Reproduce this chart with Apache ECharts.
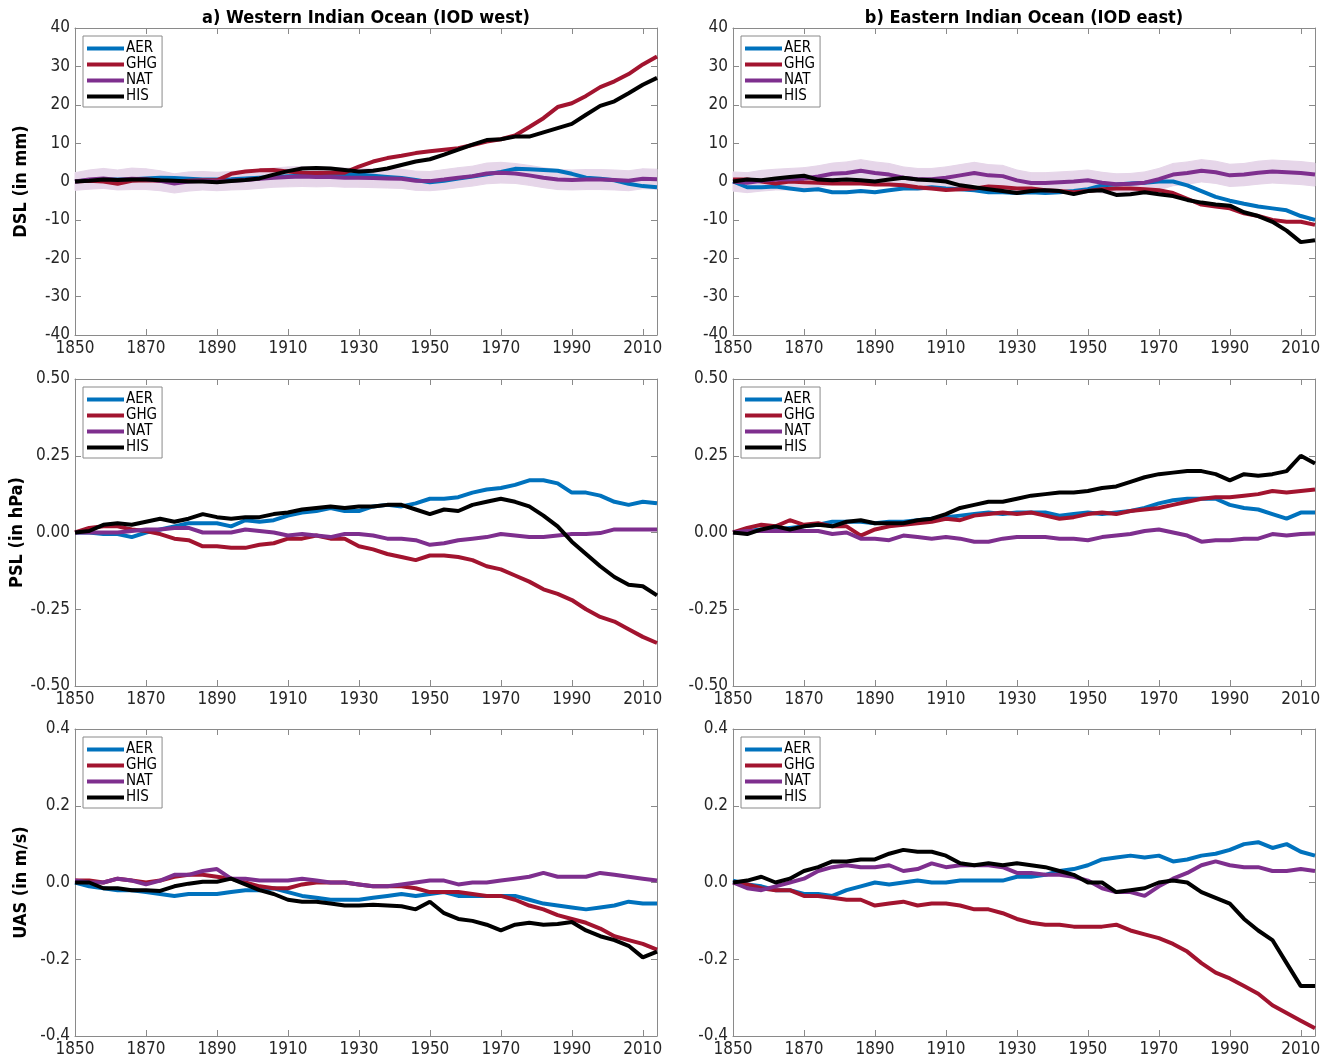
<!DOCTYPE html>
<html>
<head>
<meta charset="utf-8">
<script src="https://cdn.jsdelivr.net/npm/echarts@6/dist/echarts.min.js"></script>
<style>html,body{margin:0;padding:0;background:#fff}#c{width:1330px;height:1058px}</style>
</head>
<body>
<div id="c"></div>
<script>
// ---------- DATA ----------
const years = [1850,1854,1858,1862,1866,1870,1874,1878,1882,1886,1890,1894,1898,1902,1906,1910,1914,1918,1922,1926,1930,1934,1938,1942,1946,1950,1954,1958,1962,1966,1970,1974,1978,1982,1986,1990,1994,1998,2002,2006,2010,2014];
const xTickYears = [1850,1870,1890,1910,1930,1950,1970,1990,2010];
const seriesNames = ['AER','GHG','NAT','HIS'];
const panelTitles = ['a) Western Indian Ocean (IOD west)','b) Eastern Indian Ocean (IOD east)'];
const rowNames = ['DSL (in mm)','PSL (in hPa)','UAS (in m/s)'];
const rowMin = [-40,-0.5,-0.4];
const rowMax = [40,0.5,0.4];
const rowStep = [10,0.25,0.2];
const rowDecimals = [0,2,1];

// DSL west
const dslWest_AER = [0,0.3,0.5,0.5,0.6,0.8,1.0,0.9,0.7,0.5,0.5,0.6,0.8,1.0,1.2,1.4,1.5,1.5,1.6,1.8,1.8,1.5,1.2,0.9,0.4,-0.2,0.2,0.8,1.3,1.9,2.5,3.3,3.2,3.0,2.8,2.0,1.0,0.7,0.3,-0.6,-1.2,-1.5];
const dslWest_GHG = [0,0.2,0,-0.6,0.2,0.3,0.2,0,0.2,0.3,0.3,2.0,2.6,2.9,3.0,2.6,2.3,2.2,2.3,2.3,3.9,5.2,6.1,6.7,7.4,7.9,8.3,8.7,9.5,10.4,11.0,12.0,14.2,16.5,19.4,20.4,22.3,24.6,26.1,28.0,30.5,32.6];
const dslWest_NAT = [0,0.5,0.8,0.4,0.7,0.6,0.2,-0.5,0,0.2,0,0.2,0.4,0.7,1.0,1.2,1.3,1.2,1.2,1.0,1.0,0.9,0.8,0.7,0.2,0.1,0.5,1.0,1.4,2.1,2.3,2.1,1.6,1.0,0.5,0.4,0.5,0.5,0.4,0.2,0.7,0.6];
const dslWest_HIS = [0,0.2,0.5,0.4,0.5,0.5,0.3,0.2,0,0,-0.2,0.1,0.4,0.8,1.8,2.7,3.4,3.5,3.4,3.0,2.6,2.8,3.4,4.3,5.2,5.8,7.0,8.3,9.6,10.8,11.0,11.7,11.7,12.8,13.9,15.0,17.4,19.7,20.9,23.0,25.2,27.0];
const dslWest_NATspread = [2.3,2.5,2.6,2.6,2.8,2.7,2.6,2.5,2.5,2.4,2.4,2.4,2.5,2.5,2.5,2.6,2.6,2.6,2.5,2.5,2.5,2.5,2.5,2.5,2.5,2.5,2.6,2.6,2.6,2.7,2.7,2.6,2.6,2.6,2.6,2.6,2.6,2.6,2.6,2.6,2.6,2.6];

// DSL east
const dslEast_AER = [0,-1.5,-1.5,-1.3,-1.8,-2.3,-2.0,-2.8,-2.8,-2.5,-2.8,-2.3,-1.8,-1.8,-1.5,-1.8,-2.0,-2.3,-2.8,-2.8,-3.0,-2.8,-3.0,-2.8,-2.5,-2.0,-1.0,-0.8,-0.5,-0.3,0,0,-1.0,-2.5,-4.0,-5.0,-5.8,-6.5,-7.0,-7.5,-9.0,-10.0];
const dslEast_GHG = [0.5,0.5,0,-0.5,0,-0.2,-0.3,-0.5,-0.5,-0.5,-0.8,-0.8,-1.0,-1.5,-1.8,-2.2,-2.0,-1.8,-1.3,-1.5,-1.8,-1.8,-2.3,-2.5,-2.8,-2.5,-2.0,-1.8,-1.8,-2.0,-2.3,-3.0,-4.5,-6.0,-6.5,-7.0,-8.3,-9.0,-10.0,-10.5,-10.5,-11.3];
const dslEast_NAT = [0,-0.3,0.2,0.5,0.6,0.8,1.3,2.0,2.2,2.8,2.2,1.8,1.0,0.6,0.6,1.0,1.6,2.2,1.6,1.4,0.3,-0.4,-0.4,-0.2,0,0.3,-0.3,-0.7,-0.6,-0.3,0.6,1.8,2.2,2.8,2.4,1.6,1.8,2.3,2.6,2.4,2.2,1.8];
const dslEast_HIS = [0,0.5,0.3,0.8,1.2,1.5,0.5,0.3,0.5,0.3,0,0.5,1.0,0.5,0.3,0,-1.0,-1.5,-2.0,-2.5,-3.0,-2.5,-2.3,-2.5,-3.3,-2.5,-2.3,-3.5,-3.3,-2.8,-3.3,-3.8,-4.8,-5.5,-6.0,-6.3,-8.0,-9.0,-10.5,-12.8,-15.8,-15.3];
const dslEast_NATspread = [2.5,2.6,2.7,2.7,2.8,2.8,2.8,2.8,2.9,2.9,2.9,2.9,2.8,2.8,2.8,2.8,2.8,2.8,2.8,2.8,2.7,2.7,2.7,2.7,2.7,2.7,2.7,2.7,2.7,2.8,2.8,2.9,2.9,2.9,2.9,2.9,2.9,3.0,3.0,3.0,3.0,3.0];

// PSL west
const pslWest_AER = [0,0,-0.005,-0.005,-0.015,0,0.01,0.02,0.03,0.03,0.03,0.02,0.04,0.035,0.04,0.055,0.065,0.07,0.08,0.07,0.07,0.085,0.09,0.085,0.095,0.11,0.11,0.115,0.13,0.14,0.145,0.155,0.17,0.17,0.16,0.13,0.13,0.12,0.1,0.09,0.1,0.095];
const pslWest_GHG = [0,0.015,0.02,0.02,0.01,0.005,-0.005,-0.02,-0.025,-0.045,-0.045,-0.05,-0.05,-0.04,-0.035,-0.02,-0.02,-0.01,-0.02,-0.02,-0.045,-0.055,-0.07,-0.08,-0.09,-0.075,-0.075,-0.08,-0.09,-0.11,-0.12,-0.14,-0.16,-0.185,-0.2,-0.22,-0.25,-0.275,-0.29,-0.315,-0.34,-0.36];
const pslWest_NAT = [0,0,0,0,0.005,0.01,0.01,0.015,0.015,0,0,0,0.01,0.005,0,-0.01,-0.005,-0.01,-0.015,-0.005,-0.005,-0.01,-0.02,-0.02,-0.025,-0.04,-0.035,-0.025,-0.02,-0.015,-0.005,-0.01,-0.015,-0.015,-0.01,-0.005,-0.005,-0.002,0.01,0.01,0.01,0.01];
const pslWest_HIS = [0,0.005,0.025,0.03,0.025,0.035,0.045,0.035,0.045,0.06,0.05,0.045,0.05,0.05,0.06,0.065,0.075,0.08,0.085,0.08,0.085,0.085,0.09,0.09,0.075,0.06,0.075,0.07,0.09,0.1,0.11,0.1,0.085,0.055,0.02,-0.03,-0.07,-0.11,-0.145,-0.17,-0.175,-0.205];

// PSL east
const pslEast_AER = [0,0.005,0.01,0.01,0.015,0.02,0.025,0.035,0.035,0.035,0.03,0.035,0.035,0.04,0.045,0.05,0.055,0.06,0.065,0.06,0.065,0.065,0.065,0.055,0.06,0.065,0.06,0.065,0.07,0.08,0.095,0.105,0.11,0.11,0.11,0.09,0.08,0.075,0.06,0.045,0.065,0.065];
const pslEast_GHG = [0,0.015,0.025,0.02,0.04,0.025,0.03,0.02,0.02,-0.01,0.01,0.02,0.025,0.03,0.035,0.045,0.04,0.055,0.06,0.065,0.06,0.065,0.055,0.045,0.05,0.06,0.065,0.06,0.07,0.075,0.08,0.09,0.1,0.11,0.115,0.115,0.12,0.125,0.135,0.13,0.135,0.14];
const pslEast_NAT = [0,0.005,0.005,0.005,0.005,0.005,0.005,-0.005,0,-0.02,-0.02,-0.025,-0.01,-0.015,-0.02,-0.015,-0.02,-0.03,-0.03,-0.02,-0.015,-0.015,-0.015,-0.02,-0.02,-0.025,-0.015,-0.01,-0.005,0.005,0.01,0,-0.01,-0.03,-0.025,-0.025,-0.02,-0.02,-0.005,-0.01,-0.005,-0.003];
const pslEast_HIS = [0,-0.005,0.01,0.02,0.01,0.02,0.025,0.02,0.035,0.04,0.03,0.03,0.03,0.04,0.045,0.06,0.08,0.09,0.1,0.1,0.11,0.12,0.125,0.13,0.13,0.135,0.145,0.15,0.165,0.18,0.19,0.195,0.2,0.2,0.19,0.17,0.19,0.185,0.19,0.2,0.25,0.225];

// UAS west
const uasWest_AER = [0,-0.01,-0.015,-0.02,-0.02,-0.025,-0.03,-0.035,-0.03,-0.03,-0.03,-0.025,-0.02,-0.02,-0.015,-0.025,-0.035,-0.04,-0.045,-0.045,-0.045,-0.04,-0.035,-0.03,-0.035,-0.03,-0.025,-0.035,-0.035,-0.035,-0.035,-0.035,-0.045,-0.055,-0.06,-0.065,-0.07,-0.065,-0.06,-0.05,-0.055,-0.055];
const uasWest_GHG = [0.005,0.005,0,0.01,0.005,0,0.005,0.015,0.02,0.02,0.015,0.01,0,-0.01,-0.015,-0.015,-0.005,0,0,0,-0.005,-0.01,-0.01,-0.01,-0.015,-0.025,-0.025,-0.025,-0.03,-0.035,-0.035,-0.045,-0.06,-0.07,-0.085,-0.095,-0.105,-0.12,-0.14,-0.15,-0.16,-0.175];
const uasWest_NAT = [0.005,0,0,0.01,0.005,-0.005,0.005,0.02,0.02,0.03,0.035,0.01,0.01,0.005,0.005,0.005,0.01,0.005,0,0,-0.005,-0.01,-0.01,-0.005,0,0.005,0.005,-0.005,0,0,0.005,0.01,0.015,0.025,0.015,0.015,0.015,0.025,0.02,0.015,0.01,0.005];
const uasWest_HIS = [0,0,-0.015,-0.015,-0.02,-0.02,-0.022,-0.01,-0.003,0.002,0.002,0.01,-0.005,-0.02,-0.03,-0.045,-0.05,-0.05,-0.055,-0.06,-0.06,-0.058,-0.06,-0.062,-0.07,-0.05,-0.08,-0.095,-0.1,-0.11,-0.125,-0.11,-0.105,-0.11,-0.108,-0.103,-0.125,-0.14,-0.15,-0.165,-0.195,-0.18];

// UAS east
const uasEast_AER = [0.005,-0.005,-0.01,-0.02,-0.02,-0.03,-0.03,-0.035,-0.02,-0.01,0,-0.005,0,0.005,0,0,0.005,0.005,0.005,0.005,0.015,0.015,0.02,0.03,0.035,0.045,0.06,0.065,0.07,0.065,0.07,0.055,0.06,0.07,0.075,0.085,0.1,0.105,0.09,0.1,0.08,0.07];
const uasEast_GHG = [0,-0.005,-0.015,-0.02,-0.02,-0.035,-0.035,-0.04,-0.045,-0.045,-0.06,-0.055,-0.05,-0.06,-0.055,-0.055,-0.06,-0.07,-0.07,-0.08,-0.095,-0.105,-0.11,-0.11,-0.115,-0.115,-0.115,-0.11,-0.125,-0.135,-0.145,-0.16,-0.18,-0.21,-0.235,-0.25,-0.27,-0.29,-0.32,-0.34,-0.36,-0.38];
const uasEast_NAT = [0,-0.015,-0.02,-0.01,0,0.01,0.03,0.04,0.045,0.04,0.04,0.045,0.03,0.035,0.05,0.04,0.045,0.045,0.045,0.04,0.025,0.025,0.02,0.02,0.015,0.005,-0.015,-0.025,-0.025,-0.035,-0.01,0.01,0.025,0.045,0.055,0.045,0.04,0.04,0.03,0.03,0.035,0.03];
const uasEast_HIS = [0,0.005,0.015,0,0.01,0.03,0.04,0.055,0.055,0.06,0.06,0.075,0.085,0.08,0.08,0.07,0.05,0.045,0.05,0.045,0.05,0.045,0.04,0.03,0.02,0,0,-0.025,-0.02,-0.015,0,0.005,0,-0.025,-0.04,-0.055,-0.095,-0.125,-0.15,-0.21,-0.27,-0.27];

// ---------- PANEL TABLE ----------
const panels = [
  {row:0,col:0,data:[dslWest_AER,dslWest_GHG,dslWest_NAT,dslWest_HIS],spread:dslWest_NATspread},
  {row:0,col:1,data:[dslEast_AER,dslEast_GHG,dslEast_NAT,dslEast_HIS],spread:dslEast_NATspread},
  {row:1,col:0,data:[pslWest_AER,pslWest_GHG,pslWest_NAT,pslWest_HIS]},
  {row:1,col:1,data:[pslEast_AER,pslEast_GHG,pslEast_NAT,pslEast_HIS]},
  {row:2,col:0,data:[uasWest_AER,uasWest_GHG,uasWest_NAT,uasWest_HIS]},
  {row:2,col:1,data:[uasEast_AER,uasEast_GHG,uasEast_NAT,uasEast_HIS]}
];

// ---------- STYLE ----------
const colors = ['#0072BD','#A2142F','#7E2F8E','#000000'];
const bandColor = '#e6d6e9';
const axisColor = '#8a8a8a';
const labelColor = '#262626';
const FONT = '"DejaVu Sans Condensed","DejaVu Sans",sans-serif';
const gridLeft = [75,733];
const gridTop = [28,379,729];
const gridW = 582, gridH = 307;

const grid = [], xAxis = [], yAxis = [], series = [], legend = [];
panels.forEach((p,i) => {
  grid.push({left:gridLeft[p.col], top:gridTop[p.row], width:gridW, height:gridH});
  const tickStyle = {show:true, inside:true, length:6, customValues:xTickYears, lineStyle:{color:axisColor}};
  xAxis.push({gridIndex:i, type:'value', min:1850, max:2014, position:'bottom',
    axisLine:{show:true, onZero:false, lineStyle:{color:axisColor,width:1}},
    axisTick:tickStyle,
    axisLabel:{customValues:xTickYears, color:labelColor, fontSize:17, fontFamily:FONT, margin:5, formatter:v=>String(v)},
    splitLine:{show:false}});
  xAxis.push({gridIndex:i, type:'value', min:1850, max:2014, position:'top',
    axisLine:{show:true, onZero:false, lineStyle:{color:axisColor,width:1}},
    axisTick:tickStyle,
    axisLabel:{show:false, customValues:xTickYears},
    splitLine:{show:false},
    name: p.row===0 ? panelTitles[p.col] : '', nameLocation:'middle', nameGap:1,
    nameTextStyle:{fontWeight:'bold', fontSize:18, color:'#000', fontFamily:FONT}});
  const dec = rowDecimals[p.row];
  const yTick = {show:true, inside:true, length:6, lineStyle:{color:axisColor}};
  yAxis.push({gridIndex:i, type:'value', min:rowMin[p.row], max:rowMax[p.row], interval:rowStep[p.row], position:'left',
    axisLine:{show:true, onZero:false, lineStyle:{color:axisColor,width:1}},
    axisTick:yTick,
    axisLabel:{color:labelColor, fontSize:17, fontFamily:FONT, margin:5, formatter:v=>v.toFixed(dec)},
    splitLine:{show:false},
    name: p.col===0 ? rowNames[p.row] : '', nameLocation:'middle', nameGap:45,
    nameTextStyle:{fontWeight:'bold', fontSize:18, color:'#000', fontFamily:FONT}});
  yAxis.push({gridIndex:i, type:'value', min:rowMin[p.row], max:rowMax[p.row], interval:rowStep[p.row], position:'right',
    axisLine:{show:true, onZero:false, lineStyle:{color:axisColor,width:1}},
    axisTick:yTick, axisLabel:{show:false}, splitLine:{show:false}});

  const xi = 2*i, yi = 2*i;
  if (p.spread) {
    const nat = p.data[2], sp = p.spread;
    const bandData = years.slice(0,-1).map((y,k)=>[y, nat[k]-sp[k], nat[k]+sp[k], years[k+1], nat[k+1]-sp[k+1], nat[k+1]+sp[k+1]]);
    series.push({type:'custom', name:'NAT spread', xAxisIndex:xi, yAxisIndex:yi, silent:true, z:1,
      encode:{x:[0,3], y:[1,2,4,5]},
      renderItem:(params, api) => {
        const a = api.coord([api.value(0), api.value(1)]);
        const b = api.coord([api.value(0), api.value(2)]);
        const c = api.coord([api.value(3), api.value(5)]);
        const d = api.coord([api.value(3), api.value(4)]);
        return {type:'polygon', shape:{points:[a,b,c,d]}, style:{fill:bandColor, stroke:bandColor, lineWidth:1}};
      },
      data: bandData});
  }
  seriesNames.forEach((nm,s) => {
    series.push({type:'line', name:nm, xAxisIndex:xi, yAxisIndex:yi, showSymbol:false,
      color:colors[s], lineStyle:{width:4, color:colors[s]}, z:3+s,
      data: years.map((y,k)=>[y, p.data[s][k]])});
  });
  legend.push({data:seriesNames, orient:'vertical', left:gridLeft[p.col]+8, top:gridTop[p.row]+8,
    icon:'rect', itemWidth:37, itemHeight:4, itemGap:1, padding:[5,5,3,4],
    borderColor:axisColor, borderWidth:1, backgroundColor:'#fff',
    textStyle:{fontSize:15, color:'#000', fontFamily:FONT, padding:[0,0,0,-3]}, selectedMode:false});
});

const chart = echarts.init(document.getElementById('c'), null, {renderer:'canvas'});
chart.setOption({animation:false, backgroundColor:'#fff', grid, xAxis, yAxis, series, legend});
</script>
</body>
</html>
